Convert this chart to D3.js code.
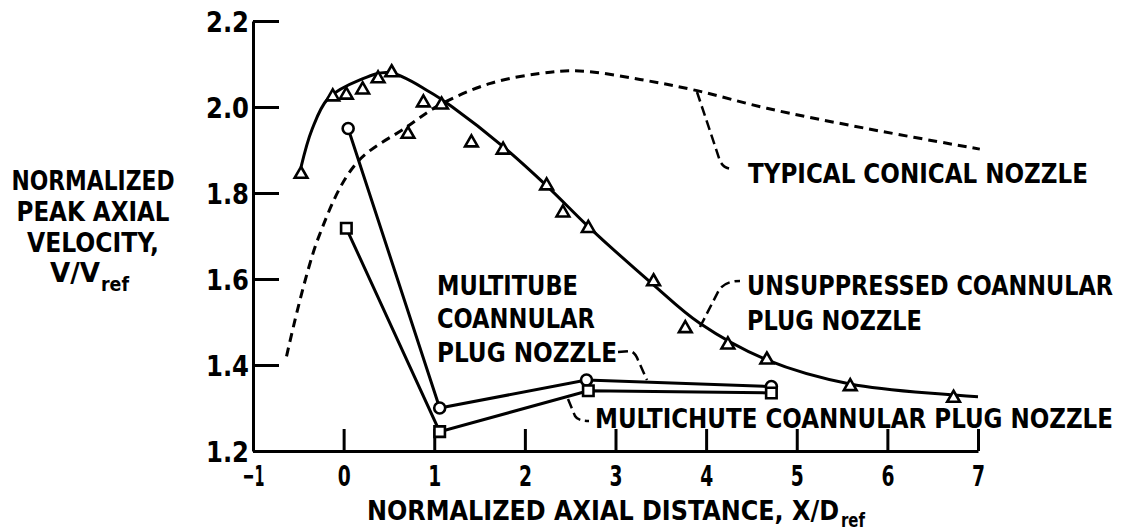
<!DOCTYPE html>
<html>
<head>
<meta charset="utf-8">
<script src="https://cdn.jsdelivr.net/npm/d3@7"></script>
<style>
    body { margin: 0; background: #fff; }
    svg text { font-family: "DejaVu Sans Condensed", "DejaVu Sans", sans-serif; font-weight: bold; fill: #000; }
</style>
</head>
<body>
<script>
(function(){

    //unsuppressed coannular plug nozzle, measured points (triangles)
    var triX = [-0.47, -0.12, 0.03, 0.21, 0.38, 0.53, 0.71, 0.88, 1.08, 1.41, 1.76, 2.24, 2.42, 2.70, 3.42, 3.77, 4.24, 4.67, 5.59, 6.73];
    var triY = [1.844, 2.024, 2.028, 2.040, 2.066, 2.080, 1.937, 2.010, 2.005, 1.917, 1.900, 1.817, 1.754, 1.718, 1.594, 1.485, 1.447, 1.412, 1.350, 1.323];

    //faired curve through the triangles
    var fitX = [-0.47, -0.35, -0.17, 0.18, 0.50, 0.95, 1.20, 1.76, 2.25, 2.70, 3.40, 3.93, 4.67, 5.59, 7.00];
    var fitY = [1.860, 1.947, 2.020, 2.063, 2.080, 2.035, 2.000, 1.908, 1.815, 1.722, 1.590, 1.497, 1.412, 1.356, 1.326];

    //typical conical nozzle (dashed)
    var conX = [-0.63, -0.28, 0.14, 0.70, 1.06, 1.62, 2.17, 2.60, 3.27, 3.90, 4.67, 5.77, 7.02];
    var conY = [1.420, 1.695, 1.869, 1.954, 2.005, 2.055, 2.078, 2.084, 2.064, 2.038, 1.997, 1.950, 1.902];

    //multitube coannular plug nozzle (circles)
    var cirX = [0.05, 1.06, 2.68, 4.72];
    var cirY = [1.950, 1.300, 1.365, 1.350];

    //multichute coannular plug nozzle (squares)
    var sqX = [0.03, 1.06, 2.70, 4.72];
    var sqY = [1.718, 1.245, 1.340, 1.335];

    //tick values
    var xTicks = [-1, 0, 1, 2, 3, 4, 5, 6, 7];
    var yTicks = [1.2, 1.4, 1.6, 1.8, 2.0, 2.2];

    var width = 1134,
        height = 532;

    var svg = d3.select("body")
        .append("svg")
        .attr("width", width)
        .attr("height", height);

    //scales
    var x = d3.scaleLinear().domain([-1, 7]).range([253, 978]);
    var y = d3.scaleLinear().domain([1.2, 2.2]).range([451, 21]);

    //axes, ticks point inward
    var yAxis = svg.append("g")
        .attr("transform", "translate(" + x(-1) + ",0)")
        .call(d3.axisLeft(y).tickValues(yTicks).tickSize(-26).tickSizeOuter(0).tickPadding(4)
            .tickFormat(d3.format(".1f")));

    var xAxis = svg.append("g")
        .attr("transform", "translate(0," + y(1.2) + ")")
        .call(d3.axisBottom(x).tickValues(xTicks).tickSize(-22).tickSizeOuter(0).tickPadding(14)
            .tickFormat(d3.format("d")));

    svg.selectAll(".domain, .tick line")
        .attr("stroke", "#000")
        .attr("stroke-width", 3);

    yAxis.selectAll(".tick text")
        .attr("dy", "0.36em")
        .style("font-size", "29px")
        .attr("textLength", 43)
        .attr("lengthAdjust", "spacingAndGlyphs");

    xAxis.selectAll(".tick text")
        .style("font-size", "29px")
        .attr("textLength", function(d){ return d < 0 ? 22 : 13; })
        .attr("lengthAdjust", "spacingAndGlyphs");

    //line generators
    var smooth = d3.line()
        .x(function(d){ return x(d[0]); })
        .y(function(d){ return y(d[1]); })
        .curve(d3.curveCatmullRom.alpha(0.5));

    var straight = d3.line()
        .x(function(d){ return x(d[0]); })
        .y(function(d){ return y(d[1]); });

    function pairs(xs, ys){
        return xs.map(function(v, i){ return [v, ys[i]]; });
    };

    //conical nozzle dashed curve
    svg.append("path")
        .datum(pairs(conX, conY))
        .attr("d", smooth)
        .attr("fill", "none")
        .attr("stroke", "#000")
        .attr("stroke-width", 3)
        .attr("stroke-dasharray", "9,6");

    //unsuppressed faired curve
    svg.append("path")
        .datum(pairs(fitX, fitY))
        .attr("d", smooth)
        .attr("fill", "none")
        .attr("stroke", "#000")
        .attr("stroke-width", 3);

    //multitube and multichute lines
    [[cirX, cirY], [sqX, sqY]].forEach(function(s){
        svg.append("path")
            .datum(pairs(s[0], s[1]))
            .attr("d", straight)
            .attr("fill", "none")
            .attr("stroke", "#000")
            .attr("stroke-width", 3);
    });

    //markers
    function markers(xs, ys, type, size){
        svg.selectAll(null)
            .data(pairs(xs, ys))
            .enter()
            .append("path")
            .attr("transform", function(d){ return "translate(" + x(d[0]) + "," + y(d[1]) + ")"; })
            .attr("d", d3.symbol().type(type).size(size))
            .attr("fill", "#fff")
            .attr("stroke", "#000")
            .attr("stroke-width", 2.6);
    };
    markers(triX, triY, d3.symbolTriangle, 70);
    markers(cirX, cirY, d3.symbolCircle, 95);
    markers(sqX, sqY, d3.symbolSquare, 110);

    //leader lines for the notes
    var leaders = [
        "M697,92 L719,158 Q722,169 733,169",
        "M700,327 L719,290 Q725,281 740,281",
        "M618,352 L630,351 Q635,352 638,360 L647,380",
        "M568,399 L575,416 Q578,421 589,421"
    ];
    svg.selectAll(".leader")
        .data(leaders)
        .enter()
        .append("path")
        .attr("class", "leader")
        .attr("d", function(d){ return d; })
        .attr("fill", "none")
        .attr("stroke", "#000")
        .attr("stroke-width", 2.5)
        .attr("stroke-dasharray", "10,5");

    //plain text helper
    function label(txt, px, py, size, len, anchor){
        var t = svg.append("text")
            .attr("x", px)
            .attr("y", py)
            .attr("text-anchor", anchor || "start")
            .style("font-size", size + "px")
            .text(txt);
        if (len) t.attr("textLength", len).attr("lengthAdjust", "spacingAndGlyphs");
        return t;
    };

    //notes
    label("TYPICAL CONICAL NOZZLE", 748, 183, 26, 340);
    label("UNSUPPRESSED COANNULAR", 747, 295, 26, 366);
    label("PLUG NOZZLE", 747, 330, 26, 175);
    label("MULTITUBE", 437, 295, 26, 141);
    label("COANNULAR", 437, 328, 26, 158);
    label("PLUG NOZZLE", 437, 362, 26, 180);
    label("MULTICHUTE COANNULAR PLUG NOZZLE", 595, 428, 26, 518);

    //y axis title
    label("NORMALIZED", 93, 190, 26, 163, "middle");
    label("PEAK AXIAL", 93, 221, 26, 153, "middle");
    label("VELOCITY,", 93, 252, 26, 132, "middle");
    label("V/V", 50, 282, 26, 50);
    label("ref", 101, 291, 20, 28);

    //x axis title
    label("NORMALIZED AXIAL DISTANCE, X/D", 367, 520, 26, 472);
    label("ref", 841, 527, 20, 24);

})();
</script>
</body>
</html>
